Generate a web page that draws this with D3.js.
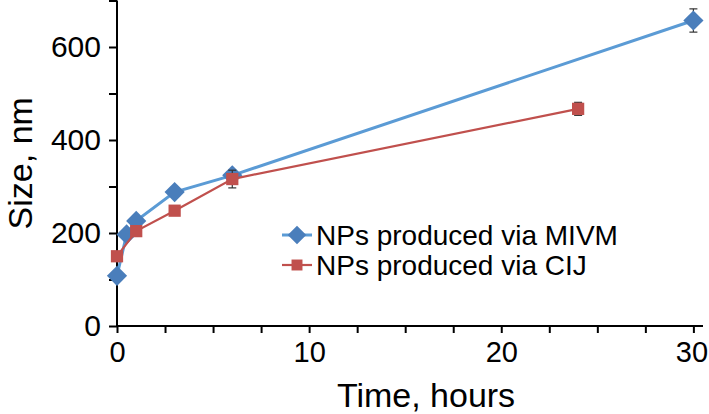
<!DOCTYPE html>
<html>
<head>
<meta charset="utf-8">
<script src="https://cdn.jsdelivr.net/npm/d3@7"></script>
<style>
  body { margin: 0; background: #fff; }
  text { font-family: "Liberation Sans", Arial, sans-serif; fill: #000; }
</style>
</head>
<body>
<svg id="chart"></svg>
<script>
var width = 709;
var height = 414;

// data
var mivmTime = [0, 0.5, 1, 3, 6, 30];
var mivmSize = [108, 197, 226, 288, 324, 657];
var mivmErr  = [4, 4, 5, 6, 9, 25];

var cijTime = [0, 1, 3, 6, 24];
var cijSize = [150, 204, 248, 316, 467];
var cijErr  = [4, 5, 5, 19, 14];

var xTicks = [0, 10, 20, 30];
var yTicks = [0, 200, 400, 600];

var blueLine = "#5b9bd5";
var blueMark = "#4a7ebb";
var redLine = "#c0504d";

var svg = d3.select("#chart")
    .attr("width", width)
    .attr("height", height);

var x = d3.scaleLinear().domain([0, 30.5]).range([117, 703]);
var y = d3.scaleLinear().domain([0, 700]).range([326, 0.5]);

// axes
var xAxis = d3.axisBottom(x)
    .tickValues(d3.range(0, 30.1, 2.5))
    .tickSize(7)
    .tickFormat(function(d) { return xTicks.indexOf(d) >= 0 ? d : ""; });
var gx = svg.append("g")
    .attr("transform", "translate(0," + y(0) + ")")
    .call(xAxis);
gx.select(".domain").attr("d", "M" + x(0) + ",0H" + x(30.5)).attr("stroke-width", 2);
gx.selectAll(".tick line").attr("stroke-width", 2);
gx.selectAll(".tick text")
    .attr("dy", "0.71em").attr("y", 15)
    .style("font-size", "29px").style("font-family", "Liberation Sans, Arial, sans-serif");
// keep the last label inside the page
gx.selectAll(".tick text").filter(function(d) { return d === 30; }).attr("x", -2);

var yAxis = d3.axisLeft(y)
    .tickValues(d3.range(0, 701, 100))
    .tickSize(8)
    .tickFormat(function(d) { return yTicks.indexOf(d) >= 0 ? d : ""; });
var gy = svg.append("g")
    .attr("transform", "translate(" + x(0) + ",0)")
    .call(yAxis);
gy.select(".domain").attr("d", "M0," + y(0) + "V" + y(700)).attr("stroke-width", 2);
gy.selectAll(".tick line").attr("stroke-width", 2);
gy.selectAll(".tick text")
    .attr("x", -16)
    .style("font-size", "30px").style("font-family", "Liberation Sans, Arial, sans-serif");

svg.append("text")
    .attr("x", 426)
    .attr("y", 407)
    .attr("text-anchor", "middle")
    .style("font-size", "34px")
    .text("Time, hours");

svg.append("text")
    .attr("transform", "translate(32," + y(350) + ") rotate(-90)")
    .attr("text-anchor", "middle")
    .style("font-size", "34px")
    .text("Size, nm");

// series
function drawSeries(times, sizes, errs, lineColor, markColor, lineW, shape, size) {
    var pts = times.map(function(t, i) { return { t: t, v: sizes[i], e: errs[i] }; });
    var g = svg.append("g");
    g.append("path")
        .datum(pts)
        .attr("fill", "none")
        .attr("stroke", lineColor)
        .attr("stroke-width", lineW)
        .attr("d", d3.line().x(function(d) { return x(d.t); }).y(function(d) { return y(d.v); }));
    var eb = g.selectAll(".err").data(pts).enter().append("g").attr("stroke", "#333").attr("stroke-width", 1.2);
    eb.append("line")
        .attr("x1", function(d) { return x(d.t); }).attr("x2", function(d) { return x(d.t); })
        .attr("y1", function(d) { return y(d.v - d.e); }).attr("y2", function(d) { return y(d.v + d.e); });
    [-1, 1].forEach(function(s) {
        eb.append("line")
            .attr("x1", function(d) { return x(d.t) - 4; }).attr("x2", function(d) { return x(d.t) + 4; })
            .attr("y1", function(d) { return y(d.v + s * d.e); }).attr("y2", function(d) { return y(d.v + s * d.e); });
    });
    g.selectAll(".mark").data(pts).enter().append("path")
        .attr("transform", function(d) { return "translate(" + x(d.t) + "," + y(d.v) + ")"; })
        .attr("d", d3.symbol().type(shape).size(size))
        .attr("fill", markColor);
}

drawSeries(mivmTime, mivmSize, mivmErr, blueLine, blueMark, 3, d3.symbolDiamond2, 260);
drawSeries(cijTime, cijSize, cijErr, redLine, redLine, 2.2, d3.symbolSquare, 150);

// legend
var legend = [
    { name: "NPs produced via MIVM", line: blueLine, mark: blueMark, w: 3, shape: d3.symbolDiamond2, size: 220, y: 235 },
    { name: "NPs produced via CIJ", line: redLine, mark: redLine, w: 2.2, shape: d3.symbolSquare, size: 120, y: 265 }
];
var lg = svg.selectAll(".leg").data(legend).enter().append("g")
    .attr("transform", function(d) { return "translate(282," + d.y + ")"; });
lg.append("line").attr("x1", 0).attr("x2", 30)
    .attr("stroke", function(d) { return d.line; })
    .attr("stroke-width", function(d) { return d.w; });
lg.append("path").attr("transform", "translate(15,0)")
    .attr("d", function(d) { return d3.symbol().type(d.shape).size(d.size)(); })
    .attr("fill", function(d) { return d.mark; });
lg.append("text").attr("x", 34).attr("y", 10)
    .style("font-size", "28px")
    .text(function(d) { return d.name; });
</script>
</body>
</html>
